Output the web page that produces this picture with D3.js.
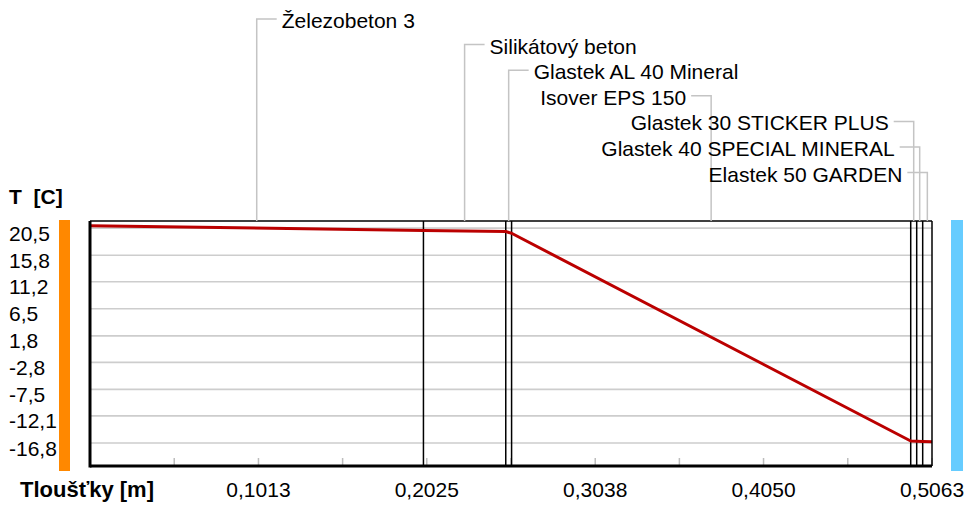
<!DOCTYPE html>
<html>
   <head>
      <meta charset="utf-8">
      <script src="https://d3js.org/d3.v7.min.js"></script>
      <style>
         body { margin: 0; background: #fff; }
         text { font-family: "Liberation Sans", Arial, sans-serif; font-size: 21px; fill: #000; }
         .bold { font-weight: bold; }
      </style>
   </head>
   <body>
      <svg id="chart" width="968" height="508"></svg>
      <script>
         // layers from the warm side (left) to the cold side (right)
         var layerNames = ["Železobeton 3", "Silikátový beton", "Glastek AL 40 Mineral", "Isover EPS 150",
            "Glastek 30 STICKER PLUS", "Glastek 40 SPECIAL MINERAL", "Elastek 50 GARDEN"];
         var layerThickness = [0.2005, 0.0495, 0.0035, 0.2400, 0.0036, 0.0036, 0.0056];
         // temperature at every interface, first = inner surface, last = outer surface
         var interfaceTemps = [20.9, 20.1, 19.9, 19.6, -16.45, -16.5, -16.55, -16.6];
         var xTickValues = [0.1013, 0.2025, 0.3038, 0.4050, 0.5063];
         var xTickLabels = ["0,1013", "0,2025", "0,3038", "0,4050", "0,5063"];
         var yTickValues = [20.5, 15.8, 11.2, 6.5, 1.8, -2.8, -7.5, -12.1, -16.8];
         var yTickLabels = ["20,5", "15,8", "11,2", "6,5", "1,8", "-2,8", "-7,5", "-12,1", "-16,8"];

         var svg = d3.select("#chart");
         var plot = { left: 90, right: 932, top: 221, bottom: 466 };

         var edges = [0].concat(Array.from(d3.cumsum(layerThickness)));
         var x = d3.scaleLinear().domain([0, d3.sum(layerThickness)]).range([plot.left, plot.right]);
         var y = d3.scaleLinear().domain([-16.8, 20.5]).range([443, 228.1]);

         // horizontal grid
         svg.append("g").selectAll("line")
            .data(yTickValues)
            .enter().append("line")
            .attr("x1", plot.left).attr("x2", plot.right)
            .attr("y1", d => y(d)).attr("y2", d => y(d))
            .attr("stroke", "#cdcdcd")
            .attr("stroke-width", 1.6);

         // small ticks on the bottom edge, every half step
         var minorTicks = [];
         xTickValues.forEach(function (v, i) {
            var prev = i ? xTickValues[i - 1] : 0;
            minorTicks.push((prev + v) / 2, v);
         });
         svg.append("g").selectAll("line")
            .data(minorTicks)
            .enter().append("line")
            .attr("x1", d => x(d)).attr("x2", d => x(d))
            .attr("y1", plot.bottom - 8).attr("y2", plot.bottom)
            .attr("stroke", "#bdbdbd")
            .attr("stroke-width", 1.5);

         // layer boundaries
         svg.append("g").selectAll("line")
            .data(edges.slice(1, -1))
            .enter().append("line")
            .attr("x1", d => x(d)).attr("x2", d => x(d))
            .attr("y1", plot.top).attr("y2", plot.bottom)
            .attr("stroke", "#000")
            .attr("stroke-width", 1.5);

         // temperature profile
         var line = d3.line()
            .x(d => x(d[0]))
            .y(d => y(d[1]));
         svg.append("path")
            .datum(edges.map((e, i) => [e, interfaceTemps[i]]))
            .attr("d", line)
            .attr("fill", "none")
            .attr("stroke", "#bb0000")
            .attr("stroke-width", 3)
            .attr("stroke-linejoin", "round");

         // frame: heavy left and bottom edge
         svg.append("line").attr("x1", plot.left).attr("x2", plot.right)
            .attr("y1", plot.top).attr("y2", plot.top)
            .attr("stroke", "#000").attr("stroke-width", 1.5);
         svg.append("line").attr("x1", plot.right).attr("x2", plot.right)
            .attr("y1", plot.top).attr("y2", plot.bottom)
            .attr("stroke", "#000").attr("stroke-width", 1.5);
         svg.append("line").attr("x1", plot.left).attr("x2", plot.left)
            .attr("y1", plot.top).attr("y2", plot.bottom + 1.5)
            .attr("stroke", "#000").attr("stroke-width", 3);
         svg.append("line").attr("x1", plot.left).attr("x2", plot.right)
            .attr("y1", plot.bottom).attr("y2", plot.bottom)
            .attr("stroke", "#000").attr("stroke-width", 3);

         // inside / outside colour bars
         svg.append("rect").attr("x", 59).attr("y", 220).attr("width", 11).attr("height", 251)
            .attr("fill", "#ff8800");
         svg.append("rect").attr("x", 951).attr("y", 220).attr("width", 12).attr("height", 251)
            .attr("fill", "#66ccff");

         // y tick labels
         svg.append("g").selectAll("text")
            .data(yTickValues)
            .enter().append("text")
            .attr("x", 9)
            .attr("y", d => y(d) + 12.5)
            .text((d, i) => yTickLabels[i]);

         // x tick labels
         svg.append("g").selectAll("text")
            .data(xTickValues)
            .enter().append("text")
            .attr("x", d => x(d))
            .attr("y", 497)
            .attr("text-anchor", "middle")
            .text((d, i) => xTickLabels[i]);

         svg.append("text").attr("class", "bold").attr("x", 9).attr("y", 204).text("T\u00a0\u00a0[C]");
         svg.append("text").attr("class", "bold").attr("x", 20).attr("y", 497)
            .style("font-size", "22px").text("Tloušťky [m]");

         // layer names with leader lines
         layerNames.forEach(function (name, i) {
            var mx = x((edges[i] + edges[i + 1]) / 2);
            var base = 28 + i * 25.6;
            var ly = base - 9;
            var dir = i < 3 ? 1 : -1;
            svg.append("polyline")
               .attr("points", [[mx, plot.top], [mx, ly], [mx + dir * 20, ly]].join(" "))
               .attr("fill", "none")
               .attr("stroke", "#c4c4c4")
               .attr("stroke-width", 1.5);
            svg.append("text")
               .attr("x", mx + dir * 25)
               .attr("y", base)
               .attr("text-anchor", dir > 0 ? "start" : "end")
               .text(name);
         });
      </script>
</body>
</html>
